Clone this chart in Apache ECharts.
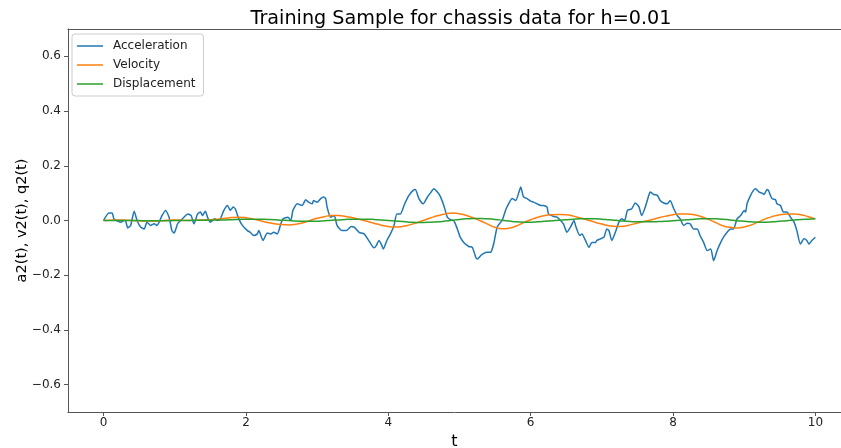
<!DOCTYPE html>
<html>
<head>
<meta charset="utf-8">
<script src="https://cdn.jsdelivr.net/npm/echarts@6/dist/echarts.min.js"></script>
<style>
html,body{margin:0;padding:0;background:#fff;}
#main{width:841px;height:448px;}
</style>
</head>
<body>
<div id="main"></div>
<script>
const titleText = 'Training Sample for chassis data for h=0.01';
const seriesNames = ['Acceleration', 'Velocity', 'Displacement'];
const xTicks = [0, 2, 4, 6, 8, 10];
const yTicks = [-0.6, -0.4, -0.2, 0, 0.2, 0.4, 0.6];

const accT = [0,0.075,0.12,0.145,0.18,0.24,0.29,0.31,0.34,0.38,0.43,0.47,0.52,0.57,0.61,0.66,0.71,0.75,0.78,0.82,0.87,0.92,0.96,0.99,1.04,1.08,1.13,1.18,1.23,1.27,1.32,1.36,1.39,1.43,1.46,1.50,1.56,1.60,1.64,1.69,1.74,1.78,1.82,1.85,1.90,1.95,2.02,2.06,2.11,2.16,2.18,2.24,2.30,2.35,2.39,2.44,2.49,2.52,2.59,2.63,2.66,2.72,2.79,2.84,2.88,2.93,2.95,3.00,3.05,3.09,3.12,3.14,3.19,3.24,3.28,3.35,3.41,3.48,3.52,3.59,3.66,3.71,3.77,3.80,3.83,3.87,3.91,3.93,3.98,4.03,4.08,4.12,4.17,4.23,4.29,4.35,4.38,4.43,4.49,4.55,4.59,4.64,4.69,4.73,4.78,4.83,4.88,4.92,4.97,5.01,5.06,5.13,5.18,5.23,5.25,5.30,5.34,5.39,5.44,5.46,5.48,5.53,5.58,5.60,5.65,5.69,5.74,5.79,5.84,5.86,5.90,5.95,6.00,6.04,6.09,6.14,6.18,6.23,6.25,6.32,6.37,6.42,6.46,6.51,6.56,6.61,6.63,6.69,6.72,6.77,6.82,6.86,6.91,6.93,6.98,7.03,7.07,7.10,7.14,7.19,7.24,7.28,7.32,7.36,7.42,7.47,7.52,7.56,7.61,7.66,7.68,7.73,7.78,7.82,7.87,7.92,7.96,8.01,8.06,8.10,8.15,8.20,8.24,8.29,8.34,8.38,8.43,8.48,8.53,8.57,8.62,8.67,8.71,8.76,8.81,8.85,8.90,8.95,9.00,9.02,9.04,9.09,9.13,9.16,9.21,9.25,9.28,9.32,9.34,9.39,9.44,9.46,9.51,9.55,9.60,9.65,9.70,9.74,9.79,9.84,9.88,9.91,9.95,10.0];
const accV = [0,0.027,0.027,0.006,0,-0.006,0,-0.002,-0.027,-0.018,0.034,0,-0.024,-0.031,-0.006,-0.018,-0.012,-0.018,-0.006,0.018,0.037,0.012,-0.037,-0.046,-0.012,0,0.012,0.024,0.018,-0.012,0.024,0.031,0.018,0.034,0.012,-0.006,0.006,0,0.006,0.037,0.055,0.037,0.049,0.043,0.006,-0.018,-0.037,-0.043,-0.055,-0.049,-0.037,-0.073,-0.046,-0.049,-0.043,-0.049,-0.012,0.006,0.012,0,0.037,0.061,0.055,0.076,0.067,0.061,0.073,0.067,0.080,0.086,0.080,0.049,0.012,0.018,-0.018,-0.037,-0.037,-0.022,-0.024,-0.043,-0.049,-0.067,-0.092,-0.100,-0.092,-0.073,-0.092,-0.104,-0.073,-0.049,-0.018,0.024,0.024,0.061,0.092,0.110,0.113,0.080,0.061,0.086,0.100,0.116,0.104,0.088,0.055,0.012,0.002,0,-0.031,-0.061,-0.080,-0.095,-0.098,-0.135,-0.141,-0.128,-0.120,-0.116,-0.116,-0.104,-0.086,-0.024,-0.006,0,0.039,0.061,0.080,0.073,0.108,0.122,0.086,0.080,0.071,0.067,0.061,0.055,0.055,0.049,0.024,0.015,0.012,0,-0.012,-0.043,-0.024,0,-0.018,-0.055,-0.049,-0.073,-0.098,-0.080,-0.080,-0.073,-0.067,-0.061,-0.031,-0.037,-0.073,-0.043,-0.006,0.006,0,0.037,0.043,0.064,0.051,0.018,0.049,0.092,0.104,0.095,0.092,0.073,0.064,0.061,0.073,0.043,0.018,0.006,-0.018,-0.010,-0.012,-0.031,-0.031,-0.055,-0.080,-0.110,-0.104,-0.147,-0.110,-0.080,-0.061,-0.043,-0.031,-0.031,0.006,0.018,0.037,0.031,0.061,0.092,0.110,0.116,0.104,0.100,0.095,0.113,0.110,0.080,0.076,0.061,0.055,0.031,0.031,0.012,-0.006,-0.037,-0.086,-0.067,-0.073,-0.086,-0.073,-0.061];

const gridT = [0,0.1,0.2,0.3,0.4,0.5,0.6,0.7,0.8,0.9,1.0,1.1,1.2,1.3,1.4,1.5,1.6,1.7,1.8,1.9,2.0,2.1,2.2,2.3,2.4,2.5,2.6,2.7,2.8,2.9,3.0,3.1,3.2,3.3,3.4,3.5,3.6,3.7,3.8,3.9,4.0,4.1,4.2,4.3,4.4,4.5,4.6,4.7,4.8,4.9,5.0,5.1,5.2,5.3,5.4,5.5,5.6,5.7,5.8,5.9,6.0,6.1,6.2,6.3,6.4,6.5,6.6,6.7,6.8,6.9,7.0,7.1,7.2,7.3,7.4,7.5,7.6,7.7,7.8,7.9,8.0,8.1,8.2,8.3,8.4,8.5,8.6,8.7,8.8,8.9,9.0,9.1,9.2,9.3,9.4,9.5,9.6,9.7,9.8,9.9,10.0];
const velV = [0,0.001,0.002,0.001,0,-0.001,-0.002,-0.002,-0.001,0.001,0.002,0.001,0,0.001,0.002,0.003,0.005,0.008,0.011,0.012,0.010,0.005,-0.001,-0.007,-0.012,-0.015,-0.016,-0.014,-0.008,0.000,0.008,0.014,0.018,0.018,0.015,0.010,0.004,-0.003,-0.010,-0.017,-0.022,-0.024,-0.022,-0.016,-0.008,0.001,0.010,0.018,0.024,0.027,0.025,0.018,0.009,-0.002,-0.014,-0.025,-0.030,-0.028,-0.020,-0.008,0.003,0.012,0.018,0.021,0.022,0.021,0.016,0.009,0.002,-0.006,-0.013,-0.019,-0.022,-0.021,-0.016,-0.009,-0.003,0.003,0.010,0.016,0.021,0.024,0.024,0.021,0.014,0.004,-0.008,-0.019,-0.025,-0.027,-0.024,-0.016,-0.005,0.006,0.015,0.021,0.024,0.024,0.021,0.014,0.006];
const dispV = [0,0,0,0,0,0,-0.001,-0.001,-0.001,-0.001,0,0,0,0.001,0.001,0.001,0.002,0.002,0.003,0.004,0.005,0.005,0.005,0.004,0.003,0.001,0.000,-0.002,-0.003,-0.003,-0.003,-0.001,0.001,0.002,0.004,0.005,0.005,0.005,0.004,0.002,0.000,-0.002,-0.004,-0.006,-0.007,-0.007,-0.006,-0.005,-0.002,0.001,0.004,0.006,0.007,0.007,0.006,0.004,0.001,-0.002,-0.005,-0.006,-0.006,-0.005,-0.003,-0.001,0.001,0.003,0.005,0.006,0.006,0.006,0.005,0.003,0.001,-0.002,-0.004,-0.005,-0.005,-0.005,-0.004,-0.003,-0.001,0.001,0.003,0.005,0.006,0.006,0.006,0.005,0.002,-0.001,-0.003,-0.005,-0.006,-0.006,-0.005,-0.003,-0.001,0.002,0.004,0.005,0.006];

const pairs = (xs, ys) => xs.map((x, i) => [x, ys[i]]);
const fmt = v => {
  const s = Math.abs(v).toFixed(1);
  return (v < -1e-9 ? '\u2212' : '') + s;
};
const FONT = 'DejaVu Sans';
const AXC = '#555';
const X_MIN = -0.5, X_MAX = 10.36;

const chart = echarts.init(document.getElementById('main'), null, {renderer: 'canvas'});
chart.setOption({
  animation: false,
  backgroundColor: '#ffffff',
  title: {
    text: titleText,
    left: 456, top: 5, textAlign: 'center',
    textStyle: {fontFamily: FONT, fontSize: 19.2, fontWeight: 'normal', color: '#000'}
  },
  grid: {left: 68, top: 29, width: 773, height: 383, show: false, containLabel: false, outerBoundsMode: 'none'},
  legend: {
    orient: 'vertical', left: 72, top: 34,
    padding: [5, 8, 5, 5],
    icon: 'rect',
    itemWidth: 26, itemHeight: 1.5, itemGap: 5,
    backgroundColor: 'rgba(255,255,255,0.8)',
    borderColor: '#cccccc', borderWidth: 1, borderRadius: 3,
    textStyle: {fontFamily: FONT, fontSize: 12, color: '#222', padding: [0, 0, 0, 5], lineHeight: 14},
    data: seriesNames
  },
  xAxis: [{
    type: 'value', min: X_MIN, max: X_MAX, position: 'bottom',
    name: 't', nameLocation: 'middle', nameGap: 18,
    nameTextStyle: {fontFamily: FONT, fontSize: 16, color: '#000'},
    axisLine: {show: true, onZero: false, lineStyle: {color: AXC, width: 1}},
    axisTick: {show: true, length: 4, lineStyle: {color: AXC}, customValues: xTicks},
    axisLabel: {fontFamily: FONT, fontSize: 12, color: '#222', margin: 5, customValues: xTicks, formatter: v => String(v)},
    splitLine: {show: false}
  }, {
    type: 'value', min: X_MIN, max: X_MAX, position: 'top',
    axisLine: {show: true, onZero: false, lineStyle: {color: AXC, width: 1}},
    axisTick: {show: false}, axisLabel: {show: false}, splitLine: {show: false}
  }],
  yAxis: {
    type: 'value', min: -0.7, max: 0.7,
    name: 'a2(t), v2(t), q2(t)', nameLocation: 'middle', nameGap: 38, nameRotate: 90,
    nameMoveOverlap: false,
    nameTextStyle: {fontFamily: FONT, fontSize: 14.5, color: '#000'},
    axisLine: {show: true, onZero: false, lineStyle: {color: AXC, width: 1}},
    axisTick: {show: true, length: 4, lineStyle: {color: AXC}, customValues: yTicks},
    axisLabel: {fontFamily: FONT, fontSize: 12, color: '#222', margin: 7, customValues: yTicks, formatter: fmt},
    splitLine: {show: false}
  },
  series: [
    {name: seriesNames[0], type: 'line', data: pairs(accT, accV), symbol: 'none', smooth: 0.2,
     lineStyle: {color: '#1f77b4', width: 1.5}, itemStyle: {color: '#1f77b4'}},
    {name: seriesNames[1], type: 'line', data: pairs(gridT, velV), symbol: 'none', smooth: true,
     lineStyle: {color: '#ff7f0e', width: 1.5}, itemStyle: {color: '#ff7f0e'}},
    {name: seriesNames[2], type: 'line', data: pairs(gridT, dispV), symbol: 'none', smooth: true,
     lineStyle: {color: '#2ca02c', width: 1.5}, itemStyle: {color: '#2ca02c'}}
  ]
});
</script>
</body>
</html>
